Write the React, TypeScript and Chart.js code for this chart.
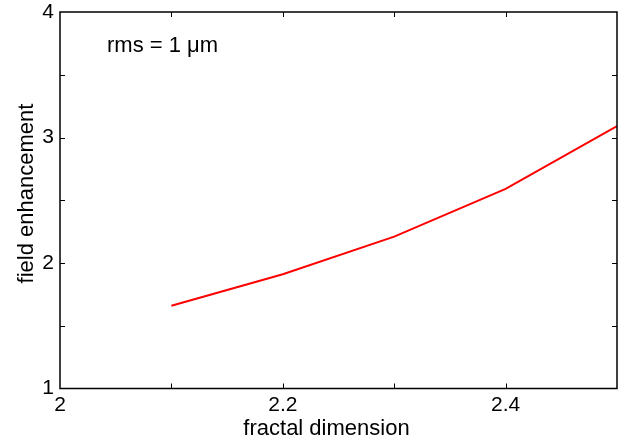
import React, { useEffect, useRef } from "react";
import { Chart, registerables } from "chart.js";

Chart.register(...registerables);

const fractalDimension = [2.1, 2.2, 2.3, 2.4, 2.5];
const fieldEnhancement = [1.66, 1.91, 2.21, 2.59, 3.09];
const xTickLabels = ["2", "2.2", "2.4"];
const yTickLabels = ["1", "2", "3", "4"];
const xTitle = "fractal dimension";
const yTitle = "field enhancement";
const annotationText = "rms = 1 \u03bcm";

const FONT = "'Liberation Sans', Arial, sans-serif";

const fmt = (v: number) => String(Math.round(v * 10) / 10);

const framePlugin = {
  id: "framePlugin",
  afterDraw(chart: any) {
    const { ctx, chartArea } = chart;
    const { left, right, top, bottom } = chartArea;
    const xs = chart.scales.x;
    const ys = chart.scales.y;
    ctx.save();
    ctx.strokeStyle = "#000";
    ctx.lineWidth = 1.5;
    ctx.strokeRect(left, top, right - left, bottom - top);
    const tl = 5;
    ctx.lineWidth = 1;
    ctx.beginPath();
    xs.ticks.forEach((t: any) => {
      const px = Math.round(xs.getPixelForValue(t.value)) + 0.5;
      if (px <= left + 1 || px >= right - 1) return;
      ctx.moveTo(px, bottom);
      ctx.lineTo(px, bottom - tl);
      ctx.moveTo(px, top);
      ctx.lineTo(px, top + tl);
    });
    ys.ticks.forEach((t: any) => {
      const py = Math.round(ys.getPixelForValue(t.value)) + 0.5;
      if (py <= top + 1 || py >= bottom - 1) return;
      ctx.moveTo(left, py);
      ctx.lineTo(left + tl, py);
      ctx.moveTo(right, py);
      ctx.lineTo(right - tl, py);
    });
    ctx.stroke();

    ctx.fillStyle = "#000";
    ctx.font = `22px ${FONT}`;
    ctx.textAlign = "center";
    ctx.textBaseline = "alphabetic";
    ctx.fillText(xTitle, 326.5, 435);
    ctx.save();
    ctx.translate(33, 193.5);
    ctx.rotate(-Math.PI / 2);
    ctx.fillText(yTitle, 0, 0);
    ctx.restore();
    ctx.textAlign = "left";
    ctx.fillText(annotationText, 107, 52);
    ctx.restore();
  },
};

export default function App() {
  const ref = useRef<HTMLCanvasElement | null>(null);
  useEffect(() => {
    if (!ref.current) return;
    const chart = new Chart(ref.current, {
      type: "line",
      data: {
        datasets: [
          {
            data: fractalDimension.map((x, i) => ({ x, y: fieldEnhancement[i] })),
            borderColor: "#ff0000",
            backgroundColor: "#ff0000",
            borderWidth: 2,
            pointRadius: 0,
            fill: false,
            tension: 0,
          },
        ],
      },
      options: {
        animation: false,
        responsive: false,
        maintainAspectRatio: false,
        layout: { padding: { top: 12, right: 13, left: 0, bottom: 0 } },
        plugins: { legend: { display: false }, tooltip: { enabled: false }, title: { display: false } },
        scales: {
          x: {
            type: "linear",
            min: 2,
            max: 2.5,
            grid: { display: false, drawTicks: false },
            border: { display: false },
            afterFit: (s: any) => {
              s.height = 50.5;
              s.paddingLeft = 0;
              s.paddingRight = 0;
            },
            ticks: {
              stepSize: 0.1,
              autoSkip: false,
              maxRotation: 0,
              padding: 4,
              color: "#000",
              font: { family: FONT, size: 21 },
              callback: (v: any) => {
                const s = fmt(Number(v));
                return xTickLabels.includes(s) ? s : "";
              },
            },
          },
          y: {
            type: "linear",
            min: 1,
            max: 4,
            grid: { display: false, drawTicks: false },
            border: { display: false },
            afterFit: (s: any) => {
              s.width = 60;
              s.paddingTop = 0;
              s.paddingBottom = 0;
            },
            ticks: {
              stepSize: 0.5,
              autoSkip: false,
              padding: 6,
              color: "#000",
              font: { family: FONT, size: 21 },
              callback: (v: any) => {
                const s = fmt(Number(v));
                return yTickLabels.includes(s) ? s : "";
              },
            },
          },
        },
      },
      plugins: [framePlugin],
    });
    return () => chart.destroy();
  }, []);
  return (
    <div style={{ position: "absolute", left: 0, top: 0, width: 630, height: 439, background: "#fff" }}>
      <canvas ref={ref} width={630} height={439} style={{ display: "block" }} />
    </div>
  );
}
